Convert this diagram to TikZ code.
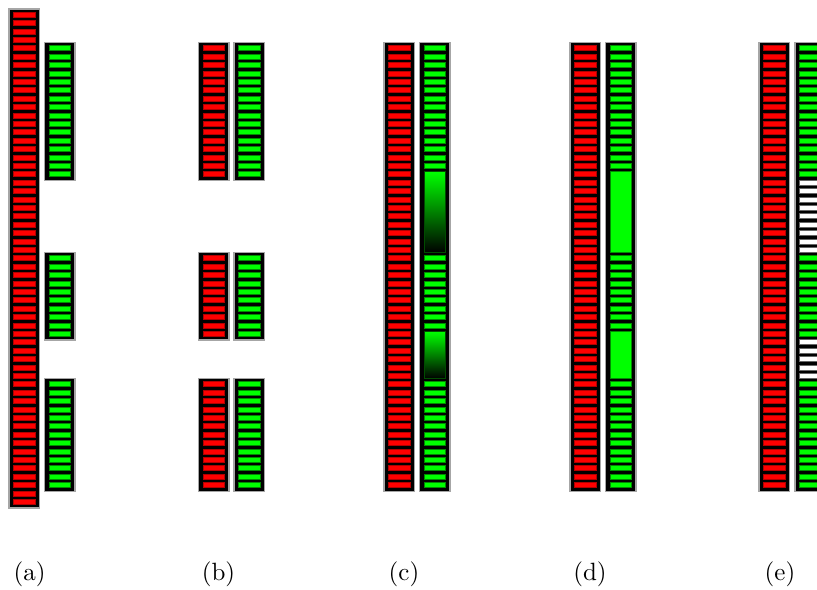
\documentclass[tikz,border=0pt]{standalone}
\begin{document}
\begin{tikzpicture}[x=0.4pt,y=-0.4pt,
  barbox/.style={draw=gray!70, fill=black, line width=0.5pt},
  redcell/.style={fill=red, draw=red!70!black, line width=0.4pt},
  greencell/.style={fill=green, draw=green!55!black, line width=0.4pt},
  whitecell/.style={fill=white, draw=gray!80!black, line width=0.4pt},
  fadecell/.style={top color=green, bottom color=black, draw=green!30!black, line width=0.4pt},
  caption/.style={anchor=base, inner sep=0pt}]
\useasboundingbox (0,0) rectangle (817,590);
% frame of one LED column, covering slots #2..#3
\newcommand\ledframe[3]{\draw[barbox] (#1,{9+8.4*#2}) rectangle ({#1+30.5},{20.8+8.4*#3});}
% one lamp per slot #2..#3
\newcommand\ledcells[4]{\foreach \k in {#2,...,#3}
  {\draw[#4] ({#1+4.5},{12.4+8.4*\k}) rectangle ({#1+26},{17.4+8.4*\k});}}
% a single tall lamp spanning slots #2..#3
\newcommand\ledblock[4]{\draw[#4] ({#1+4.5},{12.4+8.4*#2}) rectangle ({#1+26},{17.4+8.4*#3});}

% (a)
\ledframe{9}{0}{58}\ledcells{9}{0}{58}{redcell}
\foreach \a/\b in {4/19,29/38,44/56}
  {\ledframe{44.5}{\a}{\b}\ledcells{44.5}{\a}{\b}{greencell}}
\node[caption] (la) at (29.5,580) {(a)};

% (b)
\foreach \a/\b in {4/19,29/38,44/56}
  {\ledframe{198.5}{\a}{\b}\ledcells{198.5}{\a}{\b}{redcell}
   \ledframe{234}{\a}{\b}\ledcells{234}{\a}{\b}{greencell}}
\node[caption] (lb) at (218.5,580) {(b)};

% (c)
\ledframe{384}{4}{56}\ledcells{384}{4}{56}{redcell}
\ledframe{419.5}{4}{56}
\ledcells{419.5}{4}{18}{greencell}
\ledblock{419.5}{19}{28}{fadecell}
\ledcells{419.5}{29}{37}{greencell}
\ledblock{419.5}{38}{43}{fadecell}
\ledcells{419.5}{44}{56}{greencell}
\node[caption] (lc) at (404,580) {(c)};

% (d)
\ledframe{570}{4}{56}\ledcells{570}{4}{56}{redcell}
\ledframe{605.5}{4}{56}
\ledcells{605.5}{4}{18}{greencell}
\ledblock{605.5}{19}{28}{greencell}
\ledcells{605.5}{29}{37}{greencell}
\ledblock{605.5}{38}{43}{greencell}
\ledcells{605.5}{44}{56}{greencell}
\node[caption] (ld) at (590,580) {(d)};

% (e)
\ledframe{759}{4}{56}\ledcells{759}{4}{56}{redcell}
\ledframe{795}{4}{56}
\ledcells{795}{4}{19}{greencell}
\ledcells{795}{20}{28}{whitecell}
\ledcells{795}{29}{38}{greencell}
\ledcells{795}{39}{43}{whitecell}
\ledcells{795}{44}{56}{greencell}
\node[caption] (le) at (780,580) {(e)};
\end{tikzpicture}
\end{document}
